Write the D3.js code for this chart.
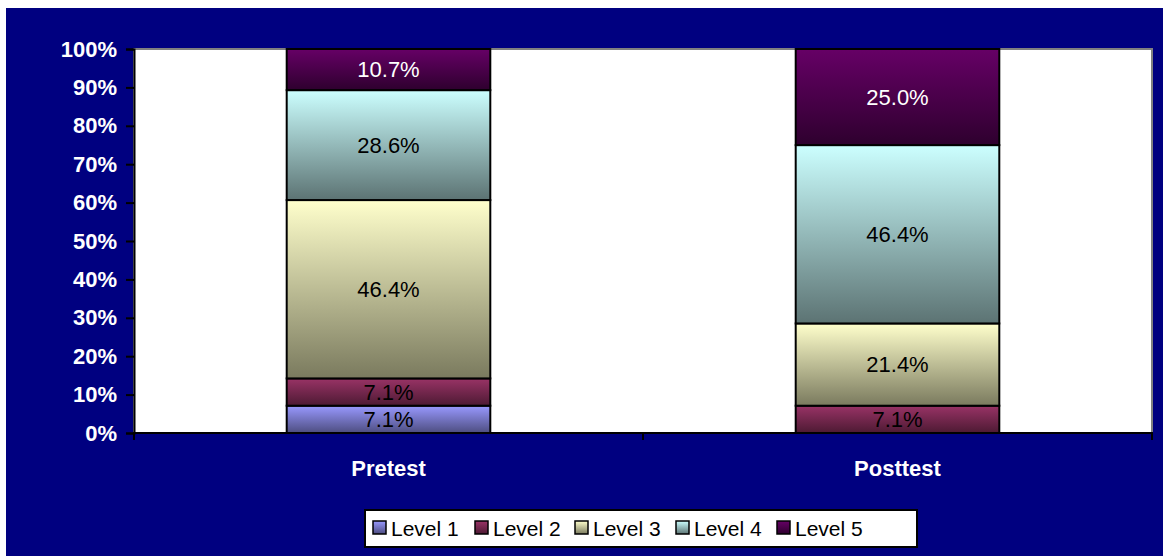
<!DOCTYPE html>
<html><head><meta charset="utf-8">
<script src="https://cdn.jsdelivr.net/npm/d3@7"></script>
<style>body{margin:0;background:#fff}svg{display:block}</style>
</head><body>
<script>
const categories = ["Pretest", "Posttest"];
const levels = ["Level 1", "Level 2", "Level 3", "Level 4", "Level 5"];
const pretest = [7.1, 7.1, 46.4, 28.6, 10.7];
const posttest = [0, 7.1, 21.4, 46.4, 25.0];
const yTicks = [0, 10, 20, 30, 40, 50, 60, 70, 80, 90, 100];
const topColors = ["#9999ff", "#993366", "#ffffcc", "#ccffff", "#660066"];
const bottomColors = ["#4d4d80", "#4d1a33", "#7a7a5e", "#5c7373", "#2e002e"];
const labelColors = ["#000", "#000", "#000", "#000", "#fff"];

(function () {
const W = 1163, H = 556;
const svg = d3.select("body").append("svg").attr("width", W).attr("height", H);
const defs = svg.append("defs");
levels.forEach((l, i) => {
  const g = defs.append("linearGradient").attr("id", "g" + i).attr("x1", 0).attr("y1", 0).attr("x2", 0).attr("y2", 1);
  g.append("stop").attr("offset", "0%").attr("stop-color", topColors[i]);
  g.append("stop").attr("offset", "100%").attr("stop-color", bottomColors[i]);
});

svg.append("rect").attr("x", 6).attr("y", 8).attr("width", W - 6).attr("height", H - 8).attr("fill", "#000080");

const pLeft = 134, pRight = 1152, pTop = 49, pBottom = 433;
svg.append("rect").attr("x", pLeft).attr("y", pTop).attr("width", pRight - pLeft).attr("height", pBottom - pTop)
  .attr("fill", "#fff").attr("stroke", "#808080").attr("stroke-width", 2);

const x = d3.scaleBand().domain(categories).range([pLeft, pRight]).paddingInner(0.6).paddingOuter(0.3);
const y = d3.scaleLinear().domain([0, 100]).range([pBottom, pTop]);

const rows = categories.map((c, ci) => {
  const vals = ci === 0 ? pretest : posttest;
  const o = {cat: c};
  levels.forEach((l, i) => o[l] = vals[i]);
  return o;
});
const series = d3.stack().keys(levels).offset(d3.stackOffsetExpand)(rows);

const font = "'Liberation Sans', Arial, sans-serif";
series.forEach((s, i) => {
  s.forEach((d, j) => {
    const v = d.data[levels[i]];
    if (!v) return;
    const y0 = y(d[0] * 100), y1 = y(d[1] * 100);
    svg.append("rect").attr("x", x(d.data.cat)).attr("y", y1).attr("width", x.bandwidth()).attr("height", y0 - y1)
      .attr("fill", `url(#g${i})`).attr("stroke", "#000").attr("stroke-width", 2);
    svg.append("text").attr("x", x(d.data.cat) + x.bandwidth() / 2).attr("y", (y0 + y1) / 2)
      .attr("dy", "0.36em").attr("text-anchor", "middle").attr("fill", labelColors[i])
      .attr("font-family", font).attr("font-size", 22).text(v.toFixed(1) + "%");
  });
});

// y axis
const yAxis = svg.append("g").attr("transform", `translate(${pLeft},0)`)
  .call(d3.axisLeft(y).tickValues(yTicks).tickFormat(d => d + "%").tickSize(8).tickPadding(9));
yAxis.select(".domain").attr("stroke", "#000").attr("stroke-width", 2);
yAxis.selectAll(".tick line").attr("stroke", "#000").attr("stroke-width", 2);
yAxis.selectAll("text").attr("fill", "#fff").attr("font-family", font).attr("font-weight", "bold").attr("font-size", 22);

// x axis
svg.append("line").attr("x1", pLeft - 1).attr("x2", pRight + 1).attr("y1", pBottom).attr("y2", pBottom).attr("stroke", "#000").attr("stroke-width", 2);
const step = (pRight - pLeft) / categories.length;
d3.range(categories.length + 1).forEach(k => {
  svg.append("line").attr("x1", pLeft + k * step).attr("x2", pLeft + k * step).attr("y1", pBottom).attr("y2", pBottom + 7)
    .attr("stroke", "#000").attr("stroke-width", 2);
});
categories.forEach(c => {
  svg.append("text").attr("x", x(c) + x.bandwidth() / 2).attr("y", 476).attr("text-anchor", "middle")
    .attr("fill", "#fff").attr("font-family", font).attr("font-weight", "bold").attr("font-size", 22).text(c);
});

// legend
const lg = svg.append("g");
lg.append("rect").attr("x", 365).attr("y", 510).attr("width", 552).attr("height", 37).attr("fill", "#fff").attr("stroke", "#000").attr("stroke-width", 2);
const itemX = [373, 475, 575, 676, 777];
levels.forEach((l, i) => {
  lg.append("rect").attr("x", itemX[i]).attr("y", 521).attr("width", 13).attr("height", 13)
    .attr("fill", `url(#g${i})`).attr("stroke", "#000").attr("stroke-width", 1.5);
  lg.append("text").attr("x", itemX[i] + 18).attr("y", 536).attr("fill", "#000")
    .attr("font-family", font).attr("font-size", 21).text(l);
});
})();
</script>
</body></html>
